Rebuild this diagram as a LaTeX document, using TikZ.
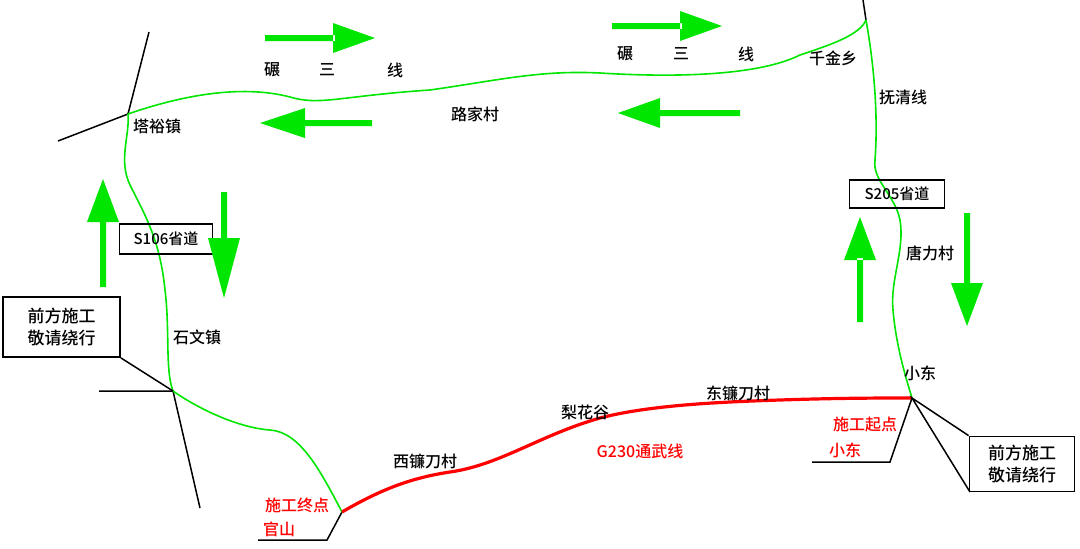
\documentclass[tikz,border=0pt]{standalone}
\usepackage{fontspec}
\setmainfont{Liberation Serif}
\newfontfamily\cjk{Noto Sans CJK SC Medium}
\definecolor{rg}{RGB}{0,230,0}
\definecolor{rr}{RGB}{255,0,0}
\begin{document}
\begin{tikzpicture}[x=1pt,y=-1pt,
  lbl/.style={font=\cjk\fontsize{16}{18}\selectfont,inner sep=0pt},
  rlbl/.style={lbl,text=rr},
  sign/.style={draw,line width=1.8pt,font=\cjk\fontsize{17}{22}\selectfont,align=center,inner sep=0pt},
  road/.style={rg,line width=1.6pt},
  blk/.style={line width=1.5pt}]
\useasboundingbox (0,0) rectangle (1080,549);
\coordinate (jTY) at (128,114);
\coordinate (jSW) at (173,391);
\coordinate (jGS) at (342,512);
\coordinate (jXD) at (912,398);
\coordinate (jQJ) at (866,20);
\draw[blk] (149,32) -- (jTY) -- (58,141);
\draw[blk] (99,391) -- (jSW) -- (200,508);
\draw[blk] (jGS) -- (327,540) -- (258,540);
\draw[blk] (863,0) -- (jQJ);
\draw[road] (jTY) .. controls (180,96) and (240,84) .. (290,97)
  .. controls (320,106) and (340,96) .. (430,90)
  .. controls (500,80) and (540,70) .. (600,73)
  .. controls (680,78) and (760,75) .. (800,55)
  .. controls (830,45) and (860,35) .. (jQJ);
\draw[road] (jTY) .. controls (130,135) and (118,160) .. (130,185)
  .. controls (145,215) and (160,240) .. (165,290)
  .. controls (170,330) and (165,370) .. (jSW);
\draw[road] (jSW) .. controls (200,410) and (240,428) .. (270,430)
  .. controls (300,432) and (320,470) .. (jGS);
\draw[road] (jQJ) .. controls (875,70) and (878,120) .. (875,160)
  .. controls (872,180) and (895,195) .. (900,220)
  .. controls (905,250) and (890,280) .. (893,310)
  .. controls (896,345) and (905,375) .. (jXD);
\draw[rr,line width=3.2pt] (jGS) .. controls (380,490) and (410,478) .. (450,472)
  .. controls (500,465) and (540,435) .. (600,418)
  .. controls (650,405) and (720,402) .. (780,400)
  .. controls (840,398) and (880,398) .. (jXD);
\node[sign,minimum width=117pt,minimum height=60pt] (sL) at (61.5,327) {前方施工\\敬请绕行};
\draw[blk] (sL.south east) -- (jSW);
\node[sign,minimum width=105pt,minimum height=55pt] (sR) at (1022,464) {前方施工\\敬请绕行};
\draw[blk] (sR.north west) -- (jXD) -- (970,492);
\draw[blk] (jXD) -- (890,462) -- (812,462);
\node[sign,minimum width=93pt,minimum height=30pt,font=\cjk\fontsize{15}{16}\selectfont] (s106) at (166,239) {S106省道};
\node[sign,minimum width=95pt,minimum height=28pt,font=\cjk\fontsize{15}{16}\selectfont] (s205) at (897,194) {S205省道};
\fill[rg] (265,35) rectangle (335,41) (333,23) -- (375,38) -- (333,53) -- cycle;
\fill[rg] (612,23) rectangle (682,29) (680,11) -- (722,26) -- (680,41) -- cycle;
\fill[rg] (303,120) rectangle (372,126) (305,108) -- (260,123) -- (305,138) -- cycle;
\fill[rg] (658,110) rectangle (740,116) (660,98) -- (618,113) -- (660,128) -- cycle;
\fill[rg] (100,222) rectangle (106,287) (87,222) -- (103,179) -- (119,222) -- cycle;
\fill[rg] (221,192) rectangle (227,240) (208,238) -- (224,298) -- (240,238) -- cycle;
\fill[rg] (857,258) rectangle (863,322) (844,260) -- (860,217) -- (876,260) -- cycle;
\fill[rg] (964,213) rectangle (970,285) (951,283) -- (967,326) -- (983,283) -- cycle;
\node[lbl] (l1) at (157,126) {塔裕镇};
\node[lbl] (l2) at (197,337) {石文镇};
\node[lbl] at (272,70) {碾};
\node[lbl] at (327,70) {三};
\node[lbl] at (395,70) {线};
\node[lbl] at (625,54) {碾};
\node[lbl] at (681,54) {三};
\node[lbl] at (746,54) {线};
\node[lbl] at (475,114) {路家村};
\node[lbl] at (833,58) {千金乡};
\node[lbl] at (903,97) {抚清线};
\node[lbl] at (930,253) {唐力村};
\node[lbl] at (920,373) {小东};
\node[lbl] at (738,393) {东镰刀村};
\node[lbl] at (585,412) {梨花谷};
\node[lbl] at (425,461) {西镰刀村};
\node[rlbl] at (640,451) {G230通武线};
\node[rlbl] at (865,424) {施工起点};
\node[rlbl] at (845,450) {小东};
\node[rlbl] at (297,505) {施工终点};
\node[rlbl] at (279,529) {官山};
\end{tikzpicture}
\end{document}
